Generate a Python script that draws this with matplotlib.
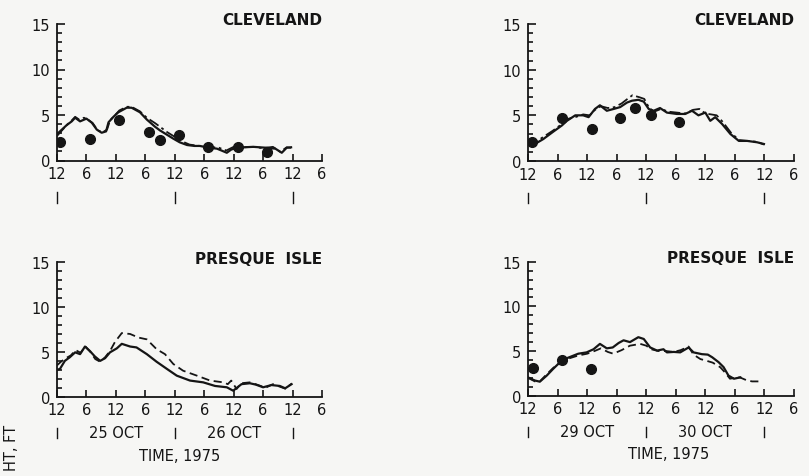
import matplotlib.pyplot as plt

# wave height hindcast vs. observed, two storms, two gauges
# hours counted from 0000 of the first day, heights in ft

cle1_solid_t = [0, 1, 2, 3, 3.7, 4.7, 6, 7.1, 8.1, 9.1, 10, 10.5, 11.5, 12.5, 14.2, 15.2, 16.9, 18.3, 20, 21,
                22.5, 23.7, 25, 26.5, 28, 29.1, 31, 32.6, 33.5, 34.6, 35.5, 36.6, 38, 40, 42.7, 44.5, 45.8, 46.8, 47.7]
cle1_solid_h = [2.9, 3.4, 3.9, 4.3, 4.7, 4.3, 4.6, 4.15, 3.4, 3.05, 3.2, 4.2, 4.8, 5.3, 5.8, 5.8, 5.3, 4.5, 3.7, 3.3,
                2.8, 2.4, 2.0, 1.7, 1.6, 1.6, 1.4, 1.3, 1.1, 0.85, 1.2, 1.4, 1.45, 1.5, 1.4, 1.3, 0.85, 1.4, 1.45]
cle1_dash_t = [0, 1, 2, 3, 3.7, 4.5, 5.5, 6.3, 7.3, 8.3, 9.3, 10.2, 10.8, 11.7, 12.7, 14.2, 15.2, 16.9, 18.3, 20,
               21, 22.5, 24, 25.5, 27, 29, 31, 33, 34.5, 36, 38, 40, 42, 44, 45.5, 46.8, 47.7]
cle1_dash_h = [2.7, 3.3, 3.9, 4.4, 4.8, 4.5, 4.7, 4.5, 4.1, 3.3, 3.1, 3.4, 4.4, 4.9, 5.5, 5.9, 5.9, 5.4, 4.7, 4.1,
               3.7, 3.1, 2.6, 2.1, 1.75, 1.6, 1.5, 1.4, 1.1, 1.5, 1.45, 1.5, 1.35, 1.5, 0.95, 1.45, 1.4]
cle1_obs_t = [0.6, 6.7, 12.6, 18.8, 20.9, 24.9, 30.8, 36.8, 42.7]
cle1_obs_h = [2.0, 2.4, 4.45, 3.15, 2.3, 2.75, 1.5, 1.45, 0.9]

cle2_solid_t = [0, 0.4, 1.4, 3.1, 5.1, 6.9, 7.9, 9.6, 11.2, 12.3, 13.6, 14.6, 16, 17.4, 18.7, 20.1, 21.1, 22.4,
                23.5, 24.5, 25.5, 26.8, 28.2, 30.2, 31.9, 33.3, 34.6, 36, 37, 38, 39.4, 41.1, 42.8, 44.5, 46.5, 47.9]
cle2_solid_h = [2.1, 2.2, 1.86, 2.4, 3.2, 3.9, 4.4, 5.0, 5.0, 4.8, 5.7, 6.1, 5.5, 5.7, 5.9, 6.4, 6.6, 6.7,
                6.5, 5.7, 5.5, 5.8, 5.3, 5.15, 5.15, 5.5, 5.0, 5.3, 4.4, 4.8, 4.05, 2.95, 2.2, 2.2, 2.05, 1.86]
cle2_dash_t = [0, 1.4, 3, 5, 7, 8, 9.6, 11.2, 12.5, 13.6, 14.8, 16.2, 17.6, 19, 20.2, 21.2, 22.5, 23.6, 24.6,
               25.6, 27, 28.5, 30.2, 32, 33.5, 34.8, 36, 37.2, 38.3, 39.5, 41.2, 42.8, 44.5, 46.5, 47.9]
cle2_dash_h = [2.3, 2.0, 2.6, 3.3, 4.1, 4.6, 4.8, 5.1, 5.0, 5.6, 6.0, 5.8, 5.9, 6.3, 6.8, 7.2, 7.0, 6.8, 5.8,
               5.4, 5.7, 5.4, 5.3, 5.2, 5.6, 5.7, 5.2, 5.1, 5.0, 4.3, 3.1, 2.3, 2.2, 2.1, 1.8]
cle2_obs_t = [0.9, 6.9, 12.9, 18.7, 21.8, 24.9, 30.7]
cle2_obs_h = [2.1, 4.7, 3.5, 4.7, 5.8, 5.0, 4.25]

pi1_solid_t = [0, 0.6, 1.6, 2.6, 3.7, 4.7, 5.7, 6.7, 7.7, 8.8, 9.8, 10.8, 12.2, 13.2, 14.9, 16.2, 18.3, 20.3,
               22.4, 24.4, 27.1, 29.8, 32.2, 34.6, 35.9, 37.6, 39.3, 40.5, 42, 43.7, 45.4, 46.5, 47.8]
pi1_solid_h = [3.0, 3.1, 4.0, 4.4, 4.95, 4.75, 5.6, 5.1, 4.5, 4.0, 4.3, 4.95, 5.4, 5.9, 5.6, 5.5, 4.75, 3.9,
               3.1, 2.35, 1.8, 1.6, 1.2, 1.05, 0.67, 1.4, 1.5, 1.35, 1.05, 1.3, 1.2, 0.94, 1.4]
pi1_dash_t = [0, 0.8, 1.8, 2.8, 3.8, 4.8, 5.8, 6.8, 7.8, 8.8, 9.8, 10.8, 11.8, 12.5, 13.2, 14.9, 16.6, 18.3,
              20.3, 22, 23.7, 25.7, 28.5, 31.2, 33.9, 34.8, 35.5, 36.6, 37.5, 39.3, 41, 42.5, 44, 45.5, 46.5, 47.8]
pi1_dash_h = [3.5, 3.9, 4.3, 4.6, 5.2, 4.9, 5.6, 5.0, 4.2, 3.9, 4.4, 5.1, 6.1, 6.6, 7.1, 7.0, 6.6, 6.4,
              5.3, 4.75, 3.65, 2.9, 2.35, 1.8, 1.6, 1.4, 1.8, 0.86, 1.5, 1.6, 1.3, 1.0, 1.4, 1.1, 0.9, 1.45]

pi2_solid_t = [0, 1.4, 2.4, 3.8, 5.1, 6.5, 7.9, 10.2, 11.9, 13.3, 14.6, 16, 17.2, 18.4, 19.4, 20.7, 22.4, 23.5,
               24.8, 26.2, 27.5, 28.2, 29.6, 30.9, 32.6, 33.6, 35.3, 36.5, 37.4, 38.7, 39.7, 40.7, 41.8, 43.1]
pi2_solid_h = [2.05, 1.7, 1.57, 2.25, 3.0, 3.75, 4.2, 4.7, 4.85, 5.2, 5.8, 5.3, 5.4, 5.9, 6.2, 6.0, 6.55, 6.35,
               5.4, 5.05, 5.2, 4.85, 4.9, 4.85, 5.4, 4.85, 4.65, 4.6, 4.3, 3.75, 3.2, 2.25, 1.9, 2.05]
pi2_dash_t = [0, 1.4, 2.4, 3.8, 5.1, 6.5, 7.9, 10.2, 12, 13.5, 14.8, 16.2, 17.3, 19, 20.7, 22.8, 24, 25, 26.5,
              28, 29.6, 31, 32.6, 33.6, 35, 36.3, 37.5, 39, 40, 41, 42, 43, 44.5, 45.5, 47.5]
pi2_dash_h = [2.0, 1.6, 1.6, 2.4, 3.1, 3.7, 4.1, 4.5, 4.7, 5.0, 5.3, 4.9, 4.7, 5.1, 5.6, 5.8, 5.6, 5.2, 5.0,
              5.0, 4.9, 5.1, 5.5, 4.6, 4.1, 3.9, 3.7, 3.2, 2.6, 1.9, 2.0, 2.05, 1.7, 1.6, 1.6]
pi2_obs_t = [1.1, 6.9, 12.8]
pi2_obs_h = [3.1, 4.05, 3.0]

hour_ticks = [0, 6, 12, 18, 24, 30, 36, 42, 48, 54]
hour_labels = ['12', '6', '12', '6', '12', '6', '12', '6', '12', '6']
day_marks = [0, 24, 48]
day_labels_1 = ['25 OCT', '26 OCT']
day_labels_2 = ['29 OCT', '30 OCT']

INK = '#151515'
PAPER = '#f6f6f4'
DASHDOT = (0, (6, 2, 1.5, 2))
DASHED = (0, (4.5, 2.5))

plt.rcParams['font.family'] = 'DejaVu Sans'

fig = plt.figure(figsize=(8.09, 4.77), dpi=100, facecolor=PAPER)

W, H = 809.0, 477.0


def make_axes(x0, x1, y0, y15):
    return fig.add_axes([x0 / W, 1 - y0 / H, (x1 - x0) / W, (y0 - y15) / H])


def style_axes(ax, title):
    ax.set_facecolor('none')
    ax.set_xlim(0, 54)
    ax.set_ylim(0, 15)
    for s in ['top', 'right']:
        ax.spines[s].set_visible(False)
    for s in ['left', 'bottom']:
        ax.spines[s].set_color(INK)
        ax.spines[s].set_linewidth(1.3)
    ax.set_yticks([0, 5, 10, 15])
    ax.set_yticks(range(16), minor=True)
    ax.set_xticks(hour_ticks)
    ax.set_xticklabels(hour_labels)
    ax.tick_params(axis='both', which='both', direction='in', colors=INK, labelcolor=INK,
                   labelsize=10.5, width=1.2)
    ax.tick_params(axis='y', which='major', length=6, pad=5)
    ax.tick_params(axis='y', which='minor', length=3.5)
    ax.tick_params(axis='x', which='major', length=5, pad=4)
    ax.text(1.0, 0.975, title, transform=ax.transAxes, ha='right', va='bottom',
            fontsize=11, fontweight='bold', color=INK)
    # day boundaries under the time axis
    tr = ax.get_xaxis_transform()
    for d in day_marks:
        ax.plot([d, d], [-0.23, -0.31], color=INK, lw=1.0, transform=tr, clip_on=False)


def draw(ax, st, sh, dt, dh, dash, ot=None, oh=None):
    ax.plot(st, sh, color=INK, lw=1.6, solid_joinstyle='round')
    ax.plot(dt, dh, color=INK, lw=1.3, linestyle=dash)
    if ot is not None:
        ax.plot(ot, oh, 'o', color=INK, markersize=7, linestyle='none')


ax1 = make_axes(57, 322, 161.5, 25)
style_axes(ax1, 'CLEVELAND')
draw(ax1, cle1_solid_t, cle1_solid_h, cle1_dash_t, cle1_dash_h, DASHDOT, cle1_obs_t, cle1_obs_h)

ax2 = make_axes(528, 794, 162, 25)
style_axes(ax2, 'CLEVELAND')
draw(ax2, cle2_solid_t, cle2_solid_h, cle2_dash_t, cle2_dash_h, DASHDOT, cle2_obs_t, cle2_obs_h)

ax3 = make_axes(57, 322, 397.7, 263.3)
style_axes(ax3, 'PRESQUE  ISLE')
draw(ax3, pi1_solid_t, pi1_solid_h, pi1_dash_t, pi1_dash_h, DASHED)

ax4 = make_axes(528, 794, 396.7, 262.7)
style_axes(ax4, 'PRESQUE  ISLE')
draw(ax4, pi2_solid_t, pi2_solid_h, pi2_dash_t, pi2_dash_h, DASHED, pi2_obs_t, pi2_obs_h)

# date names and time caption on the lower row
for ax, names, tx in [(ax3, day_labels_1, 25), (ax4, day_labels_2, 28.5)]:
    tr = ax.get_xaxis_transform()
    for x, name in zip([12, 36], names):
        ax.text(x, -0.265, name, transform=tr, ha='center', va='center', fontsize=10.5, color=INK)
    ax.text(tx, -0.435, 'TIME, 1975', transform=tr, ha='center', va='center', fontsize=10.5, color=INK)

# y label, only its end fits on the sheet
fig.text(11 / W, 1 - 425 / H, 'HT, FT', rotation=90, ha='center', va='top',
         fontsize=10.5, color=INK)

fig.savefig('out.png', dpi=100, facecolor=PAPER)
